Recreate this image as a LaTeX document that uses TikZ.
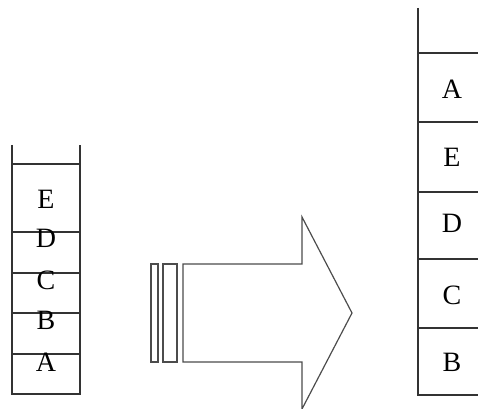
\documentclass[tikz,border=0pt]{standalone}
\usepackage{fontspec}
\setmainfont{Liberation Serif}
\usepackage{tikz}

\begin{document}
\begin{tikzpicture}[x=0.75pt,y=-0.75pt]
\tikzstyle{every node}+=[inner sep=0pt]
\tikzstyle{cell}=[font=\fontsize{21}{21}\selectfont]
\tikzstyle{wall}=[line width=0.9pt,black!80]
\useasboundingbox (0,0) rectangle (478,409);
% left stack
\draw [wall] (12,145) -- (12,394) -- (80,394) -- (80,145);
\draw [wall] (12,164) -- (80,164);
\draw [wall] (12,232) -- (80,232);
\draw [wall] (12,273) -- (80,273);
\draw [wall] (12,313) -- (80,313);
\draw [wall] (12,354) -- (80,354);
\node [cell] (lE) at (46,199) {E};
\node [cell] (lD) at (46,238) {D};
\node [cell] (lC) at (46,280) {C};
\node [cell] (lB) at (46,320) {B};
\node [cell] (lA) at (46,362) {A};
% arrow
\draw [wall,black!70] (151,264) rectangle (158,362);
\draw [wall,black!70] (163,264) rectangle (177,362);
\draw [wall,black!70] (183,264) -- (302,264) -- (302,217) -- (352,313) -- (302,409) -- (302,362) -- (183,362) -- cycle;
% right stack
\draw [wall] (418,8) -- (418,395) -- (480,395);
\draw [wall] (418,53) -- (480,53);
\draw [wall] (418,122) -- (480,122);
\draw [wall] (418,192) -- (480,192);
\draw [wall] (418,259) -- (480,259);
\draw [wall] (418,328) -- (480,328);
\node [cell] (rA) at (452,89) {A};
\node [cell] (rE) at (452,157) {E};
\node [cell] (rD) at (452,223) {D};
\node [cell] (rC) at (452,295) {C};
\node [cell] (rB) at (452,362) {B};
\end{tikzpicture}
\end{document}
